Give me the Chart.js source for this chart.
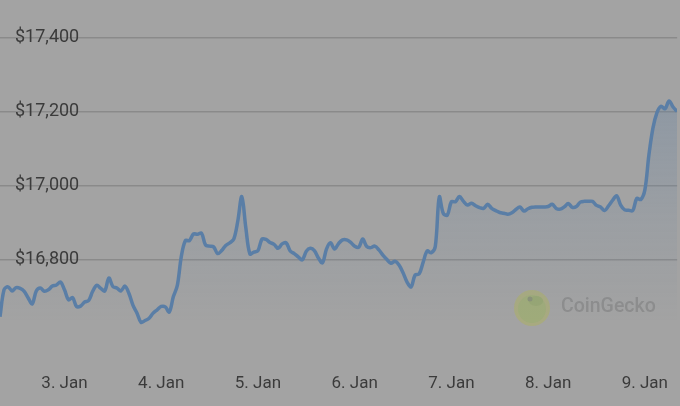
<!DOCTYPE html>
<html>
<head>
<meta charset="utf-8">
<script src="https://cdn.jsdelivr.net/npm/chart.js@4"></script>
<style>
    html, body { margin: 0; padding: 0; background: #a3a3a3; }
    #chart { display: block; }
</style>
</head>
<body>
<canvas id="chart" width="680" height="406"></canvas>
<script>
// hourly price, starting 2 Jan 08:00 and ending 9 Jan 08:00
const prices = [
    16645, 16718, 16726, 16715, 16724, 16722, 16714, 16696, 16680, 16715,
    16723, 16714, 16718, 16728, 16731, 16739, 16718, 16691, 16697, 16673,
    16674, 16685, 16689, 16714, 16730, 16722, 16715, 16750, 16727, 16723,
    16715, 16728, 16708, 16676, 16655, 16630, 16635, 16641, 16655, 16664,
    16673, 16672, 16658, 16699, 16730, 16809, 16851, 16851, 16869, 16868,
    16871, 16839, 16836, 16834, 16816, 16824, 16838, 16845, 16855, 16904,
    16970, 16885, 16815, 16820, 16824, 16855, 16854, 16846, 16841, 16830,
    16842, 16845, 16823, 16816, 16807, 16799, 16822, 16830, 16824, 16804,
    16791, 16828, 16845, 16828, 16843, 16853, 16853, 16846, 16836, 16833,
    16855, 16835, 16832, 16836, 16826, 16812, 16800, 16790, 16795, 16785,
    16764, 16739, 16726, 16758, 16761, 16793, 16823, 16818, 16835, 16969,
    16924, 16920, 16956, 16956, 16970, 16957, 16947, 16952, 16945, 16940,
    16938, 16949, 16938, 16932, 16927, 16925, 16922, 16926, 16935, 16942,
    16931, 16937, 16941, 16942, 16942, 16942, 16943, 16949, 16938, 16936,
    16942, 16951, 16941, 16943, 16955, 16957, 16957, 16957, 16946, 16942,
    16932, 16945, 16960, 16972, 16947, 16934, 16933, 16932, 16965, 16962,
    16988, 17082, 17155, 17197, 17214, 17207, 17228, 17212, 17200
];
const dayLabels = ['3. Jan', '4. Jan', '5. Jan', '6. Jan', '7. Jan', '8. Jan', '9. Jan'];
const dayStartHours = [16, 40, 64, 88, 112, 136, 160];
const priceTicks = [16800, 17000, 17200, 17400];

const textColor = '#3b3b3b';

const watermark = {
    id: 'watermark',
    beforeDatasetsDraw(chart) {
        const ctx = chart.ctx;
        ctx.save();
        // gecko logo
        ctx.beginPath();
        ctx.arc(532, 308, 18, 0, Math.PI * 2);
        ctx.fillStyle = '#a8aa80';
        ctx.fill();
        ctx.beginPath();
        ctx.arc(532, 309, 14, 0, Math.PI * 2);
        ctx.fillStyle = '#9fab7a';
        ctx.fill();
        ctx.beginPath();
        ctx.ellipse(536, 301, 7, 5, 0, 0, Math.PI * 2);
        ctx.fillStyle = '#97a674';
        ctx.fill();
        ctx.beginPath();
        ctx.arc(530, 299, 2.5, 0, Math.PI * 2);
        ctx.fillStyle = '#8a9278';
        ctx.fill();
        // name
        ctx.font = '500 19.5px Roboto';
        ctx.fillStyle = '#8d8d8d';
        ctx.textBaseline = 'middle';
        ctx.fillText('CoinGecko', 561, 307);
        ctx.restore();
    }
};

const ctx = document.getElementById('chart').getContext('2d');
new Chart(ctx, {
    type: 'line',
    data: {
        datasets: [{
            data: prices.map((p, i) => ({ x: i, y: p })),
            borderColor: '#5a7ea6',
            borderWidth: 3.5,
            pointRadius: 0,
            tension: 0.35,
            fill: 'start',
            backgroundColor: context => {
                const area = context.chart.chartArea;
                if (!area) return 'rgba(0,0,0,0)';
                const g = context.chart.ctx.createLinearGradient(0, 100, 0, area.bottom - 40);
                g.addColorStop(0, 'rgba(90,126,166,0.28)');
                g.addColorStop(0.55, 'rgba(90,126,166,0.1)');
                g.addColorStop(1, 'rgba(90,126,166,0)');
                return g;
            }
        }]
    },
    options: {
        responsive: false,
        animation: false,
        layout: { padding: 0 },
        plugins: {
            legend: { display: false },
            tooltip: { enabled: false }
        },
        scales: {
            x: {
                type: 'linear',
                min: 0,
                max: 168,
                grid: { display: false, drawTicks: false },
                border: { display: false },
                afterBuildTicks: scale => {
                    scale.ticks = dayStartHours.map(h => ({ value: h }));
                },
                afterFit: scale => { scale.height = 44; },
                ticks: {
                    maxRotation: 0,
                    autoSkip: false,
                    padding: 12,
                    color: textColor,
                    font: { family: 'Roboto', size: 17 },
                    callback: value => dayLabels[dayStartHours.indexOf(value)]
                }
            },
            y: {
                position: 'left',
                min: 16523,
                max: 17501,
                afterBuildTicks: scale => {
                    scale.ticks = priceTicks.map(v => ({ value: v }));
                },
                afterFit: scale => {
                    scale.width = 0;
                    scale.paddingTop = 0;
                    scale.paddingBottom = 0;
                },
                grid: {
                    color: 'rgba(105,105,105,0.42)',
                    lineWidth: 1.5,
                    drawTicks: false
                },
                border: { display: false },
                ticks: {
                    mirror: true,
                    padding: 15,
                    color: textColor,
                    font: { family: 'Roboto', size: 18 },
                    callback: value => '$' + value.toLocaleString('en-US')
                }
            }
        }
    },
    plugins: [watermark]
});
</script>
</body>
</html>
